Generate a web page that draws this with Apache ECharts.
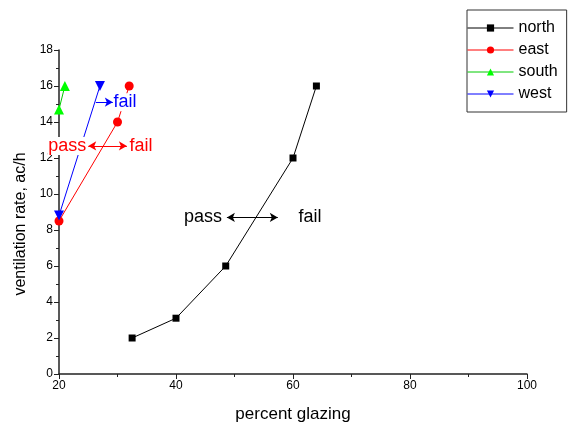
<!DOCTYPE html>
<html>
<head>
<meta charset="utf-8">
<script src="https://cdn.jsdelivr.net/npm/echarts@6/dist/echarts.min.js"></script>
<style>html,body{margin:0;padding:0;background:#fff}#c{width:572px;height:428px}</style>
</head>
<body>
<div id="c"></div>
<script>
// Data series
var northX = [32.5, 40, 48.5, 60, 64];
var northY = [2, 3.1, 6, 12, 16];
var eastX = [20, 30, 32];
var eastY = [8.5, 14, 16];
var southX = [20, 21];
var southY = [14.7, 16];
var westX = [20, 27];
var westY = [8.8, 16];
var seriesNames = ['north', 'east', 'south', 'west'];
var xTicks = [20, 40, 60, 80, 100];
var yTicks = [0, 2, 4, 6, 8, 10, 12, 14, 16, 18];

// Annotations: text labels (data coords)
var annText = ['pass', 'fail', 'pass', 'fail', 'fail'];
var annX = [44.6, 62.9, 21.4, 34.0, 31.3];
var annY = [8.7, 8.7, 12.67, 12.67, 15.1];
var annColor = ['#000', '#000', '#ff0000', '#ff0000', '#0000ff'];
// Arrows: from x1 to x2 at y; double-headed or not
var arrowX1 = [48.7, 25.0, 26.3];
var arrowX2 = [57.4, 31.6, 29.2];
var arrowY = [8.7, 12.67, 15.1];
var arrowBoth = [true, true, false];
var arrowColor = ['#000', '#ff0000', '#0000ff'];

function pairs(xs, ys) { return xs.map(function (x, i) { return [x, ys[i]]; }); }

var chart = echarts.init(document.getElementById('c'), null, { renderer: 'canvas' });
var font = 'Liberation Sans, Arial, sans-serif';

var annData = annText.map(function (t, i) {
  return {
    value: [annX[i], annY[i]],
    label: { show: true, position: 'inside', formatter: t, color: annColor[i], fontSize: 18,
      fontFamily: font, backgroundColor: '#fff', padding: [0, 1, 0, 1],
      textBorderWidth: 0, textShadowBlur: 0 }
  };
});
var arrowData = arrowX1.map(function (x1, i) {
  return [
    { coord: [x1, arrowY[i]], symbol: arrowBoth[i] ? 'arrow' : 'none', lineStyle: { color: arrowColor[i], width: 1, type: 'solid' }, itemStyle: { color: arrowColor[i] } },
    { coord: [arrowX2[i], arrowY[i]], symbol: 'arrow' }
  ];
});

chart.setOption({
  animation: false,
  backgroundColor: '#fff',
  textStyle: { fontFamily: font },
  grid: { left: 59, right: 45, top: 50, bottom: 54, containLabel: false },
  legend: {
    data: seriesNames,
    orient: 'vertical',
    left: 467, top: 10,
    borderColor: '#333', borderWidth: 1,
    padding: [10, 9, 10, 0],
    itemWidth: 46, itemHeight: 9, itemGap: 6,
    lineStyle: { width: 1 },
    textStyle: { fontSize: 16, color: '#000', fontFamily: font }
  },
  xAxis: {
    type: 'value', min: 20, max: 100, interval: 20,
    name: 'percent glazing', nameLocation: 'middle', nameGap: 32,
    nameTextStyle: { fontSize: 17, color: '#000', fontFamily: font },
    axisLine: { show: true, lineStyle: { color: '#222', width: 1.5 } },
    axisTick: { show: true, inside: false, length: 5, lineStyle: { color: '#222' } },
    minorTick: { show: true, splitNumber: 2, length: 3, lineStyle: { color: '#222' } },
    axisLabel: { fontSize: 12, color: '#000', margin: 6, fontFamily: font },
    splitLine: { show: false }
  },
  yAxis: {
    type: 'value', min: 0, max: 18, interval: 2,
    name: 'ventilation rate, ac/h', nameLocation: 'middle', nameGap: 24,
    nameTextStyle: { fontSize: 16, color: '#000', fontFamily: font, padding: [0, 24, 0, 0] },
    axisLine: { show: true, lineStyle: { color: '#222', width: 1.5 } },
    axisTick: { show: true, inside: false, length: 5, lineStyle: { color: '#222' } },
    minorTick: { show: true, splitNumber: 2, length: 3, lineStyle: { color: '#222' } },
    axisLabel: { fontSize: 12, color: '#000', margin: 6, fontFamily: font },
    splitLine: { show: false }
  },
  series: [
    { name: 'north', type: 'line', data: pairs(northX, northY), symbol: 'rect', symbolSize: 7,
      color: '#000', lineStyle: { width: 1, color: '#000' }, itemStyle: { color: '#000' }, z: 2 },
    { name: 'east', type: 'line', data: pairs(eastX, eastY), symbol: 'circle', symbolSize: 9,
      color: '#ff0000', lineStyle: { width: 1, color: '#ff0000' }, itemStyle: { color: '#ff0000' }, z: 2 },
    { name: 'south', type: 'line', data: pairs(southX, southY), symbol: 'triangle', symbolSize: 10,
      color: '#00ff00', lineStyle: { width: 1, color: '#00cc00' }, itemStyle: { color: '#00ff00' }, z: 2 },
    { name: 'west', type: 'line', data: pairs(westX, westY), symbol: 'triangle', symbolRotate: 180, symbolSize: 10,
      color: '#0000ff', lineStyle: { width: 1, color: '#0000ff' }, itemStyle: { color: '#0000ff' }, z: 2 },
    { name: 'annotations', type: 'scatter', data: annData, symbolSize: 0, z: 5, silent: true,
      itemStyle: { color: '#fff', opacity: 1 },
      markLine: { silent: true, symbolSize: [7, 8], label: { show: false }, data: arrowData, z: 6 } }
  ]
});
</script>
</body>
</html>
